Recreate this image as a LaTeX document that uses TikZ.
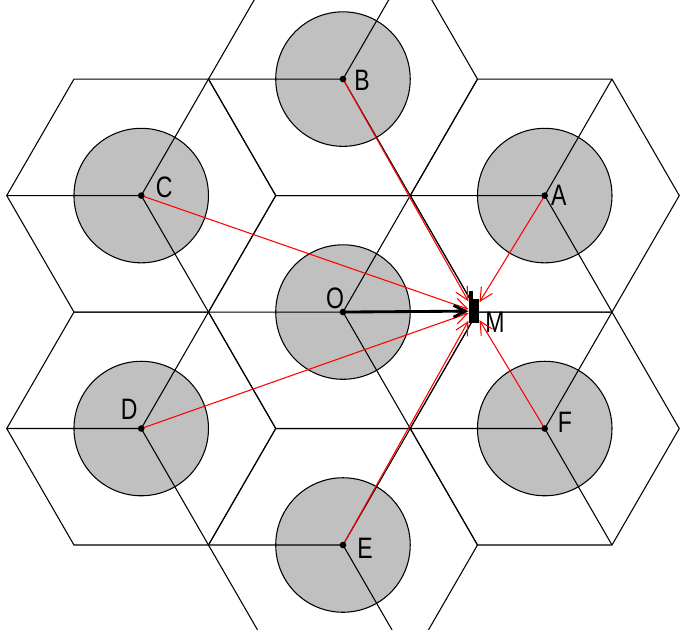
\documentclass[tikz,border=0pt]{standalone}
\usepackage{fontspec}
\newfontfamily\cellfont[FakeStretch=0.78]{Liberation Sans}
\usetikzlibrary{arrows.meta, positioning}
\definecolor{cellgray}{RGB}{192,192,192}

\begin{document}
\begin{tikzpicture}[x=2cm, y=2cm,
    hexline/.style={line width=0.45pt},
    cellarea/.style={fill=cellgray, draw=black, line width=0.45pt},
    sig/.style={red, line width=0.45pt, -{Straight Barb[length=5.5pt, width=5.5pt]}},
    own/.style={line width=1.2pt, -{Straight Barb[length=5pt, width=5pt]}},
    lbl/.style={font=\cellfont\fontsize{12.5}{14}\selectfont, inner sep=0pt}]
  \useasboundingbox (-2.550,-2.357) rectangle (2.580,2.320);
  \clip (-2.550,-2.357) rectangle (2.580,2.320);
  % cell centres
  \foreach \n/\x/\y in {O/0/0, A/1.5/0.866, B/0/1.732, C/-1.5/0.866,
                        D/-1.5/-0.866, E/0/-1.732, F/1.5/-0.866}
    \coordinate (\n) at (\x,\y);
  % coverage
  \foreach \n in {O,A,B,C,D,E,F}
    \draw[cellarea] (\n) circle (0.5);
  % hexagons and sector borders
  \foreach \n in {O,A,B,C,D,E,F} {
    \draw[hexline] (\n) +(0:1) -- +(60:1) -- +(120:1) -- +(180:1)
                       -- +(240:1) -- +(300:1) -- cycle;
    \draw[hexline] (\n) -- +(180:1) (\n) -- +(60:1) (\n) -- +(-60:1);
  }
  % mobile
  \node[fill=black, inner sep=0pt, minimum width=0.149cm, minimum height=0.357cm]
    (M) at (0.974,0.007) {};
  \fill (M.north west) rectangle ++(0.074cm,0.119cm);
  \node[lbl] (M-l) at (1.130,-0.074) {M};
  % interference and own signal
  \foreach \n in {A,B,C,D,E,F}
    \draw[sig] (\n) -- (M);
  \draw[own] (O) -- (M);
  \foreach \n/\lx/\ly in {O/-0.059/0.104, A/0.104/0, B/0.141/-0.007, C/0.171/0.059,
                          D/-0.089/0.141, E/0.164/-0.022, F/0.149/0.045} {
    \fill (\n) circle (1.4pt);
    \node[lbl] (\n-l) at ([shift={(\lx,\ly)}]\n) {\n};
  }
\end{tikzpicture}
\end{document}
